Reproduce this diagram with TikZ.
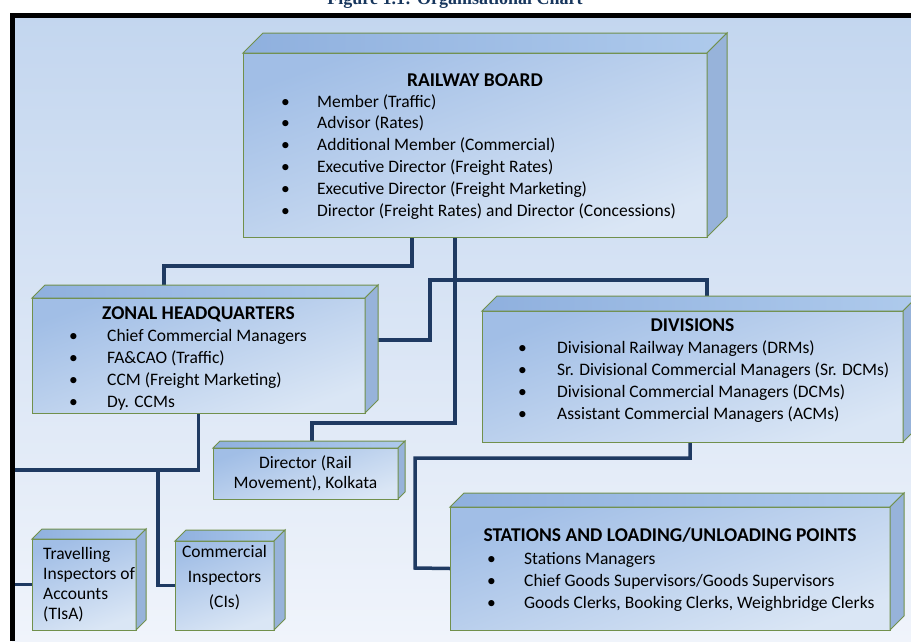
\documentclass[tikz,border=0pt]{standalone}
\usepackage{fontspec}
\setmainfont{Carlito}
\newfontfamily\captionserif{Liberation Serif}
\pgfdeclarelayer{bg}
\pgfdeclarelayer{links}
\pgfsetlayers{bg,links,main}
\definecolor{frontdark}{HTML}{A1BEE6}
\definecolor{frontlight}{HTML}{DAE6F5}
\definecolor{topdark}{HTML}{8FB0DE}
\definecolor{toplight}{HTML}{AECAEC}
\definecolor{sideblue}{HTML}{97B3DA}
\definecolor{edgegreen}{HTML}{71904C}
\definecolor{linknavy}{HTML}{1F3A62}
\definecolor{bgtop}{HTML}{C3D6EF}
\definecolor{bgbottom}{HTML}{F0F4FB}
\definecolor{captionblue}{HTML}{17365D}
\tikzstyle{front}=[draw=edgegreen, line width=1pt, top color=frontdark, bottom color=frontlight, shading angle=20, inner sep=0pt, outer sep=0pt, anchor=north west]
\tikzstyle{topface}=[draw=edgegreen, line width=1pt, left color=topdark, right color=toplight]
\tikzstyle{sideface}=[draw=edgegreen, line width=1pt, fill=sideblue]
\tikzstyle{link}=[draw=linknavy, line width=3.5pt]
\tikzstyle{head}=[font=\fontsize{19.5}{22}\selectfont\bfseries, anchor=base, inner sep=0pt]
\tikzstyle{item}=[font=\fontsize{17.5}{22}\selectfont, anchor=base west, inner sep=0pt]
\tikzstyle{boxtext}=[font=\fontsize{17.5}{20}\selectfont, inner sep=0pt]

\begin{document}
\begin{tikzpicture}[x=1pt, y=-1pt]
	\useasboundingbox (0,0) rectangle (911,641);
	\begin{pgfonlayer}{bg}
		\shade[top color=bgtop, bottom color=bgbottom] (12,15) rectangle (911,641);
	\end{pgfonlayer}
	\node[font=\captionserif\fontsize{18}{20}\selectfont\bfseries, text=captionblue, anchor=base, inner sep=0pt] (caption) at (455,4.5) {Figure 1.1: Organisational Chart};

	\node[front, minimum width=464pt, minimum height=184pt] (board) at (243,53) {};
	\node[front, minimum width=333pt, minimum height=115pt] (zonal) at (32,298) {};
	\node[front, minimum width=421pt, minimum height=131pt] (division) at (482,311) {};
	\node[front, minimum width=185pt, minimum height=51pt] (director) at (213,448) {};
	\node[front, minimum width=104pt, minimum height=91pt] (travel) at (32,539) {};
	\node[front, minimum width=99pt, minimum height=89pt] (cinsp) at (175,541) {};
	\node[front, minimum width=440pt, minimum height=123pt] (stations) at (450,507) {};
	\foreach \n/\d in {board/20, zonal/13, division/15, director/7, travel/10, cinsp/11, stations/14}{
		\draw[topface] (\n.north west) -- ++(\d,-\d) -- ([shift={(\d,-\d)}]\n.north east) -- (\n.north east) -- cycle;
		\draw[sideface] (\n.north east) -- ([shift={(\d,-\d)}]\n.north east) -- ([shift={(\d,-\d)}]\n.south east) -- (\n.south east) -- cycle;
	}

	\node[head] (boardhead) at (475,86) {RAILWAY BOARD};
	\foreach \t [count=\i] in {Member (Traffic), Advisor (Rates), Additional Member (Commercial), Executive Director (Freight Rates), Executive Director (Freight Marketing), Director (Freight Rates) and Director (Concessions)}
		\node[item] (boarditem\i) at (281,{107+21.8*(\i-1)}) {\makebox[36pt][l]{\textbullet}\t};
	\node[head] (zonalhead) at (198.5,319) {ZONAL HEADQUARTERS};
	\foreach \t [count=\i] in {Chief Commercial Managers, FA\&CAO (Traffic), CCM (Freight Marketing), Dy. CCMs}
		\node[item] (zonalitem\i) at (69,{341+22.3*(\i-1)}) {\makebox[38pt][l]{\textbullet}\t};
	\node[head] (divisionhead) at (692.5,331) {DIVISIONS};
	\foreach \t [count=\i] in {Divisional Railway Managers (DRMs), Sr. Divisional Commercial Managers (Sr. DCMs), Divisional Commercial Managers (DCMs), Assistant Commercial Managers (ACMs)}
		\node[item] (divisionitem\i) at (518,{353+22*(\i-1)}) {\makebox[39pt][l]{\textbullet}\t};
	\node[head] (stationshead) at (670,541) {STATIONS AND LOADING/UNLOADING POINTS};
	\foreach \t [count=\i] in {Stations Managers, Chief Goods Supervisors/Goods Supervisors, {Goods Clerks, Booking Clerks, Weighbridge Clerks}}
		\node[item] (stationsitem\i) at (487,{564+22*(\i-1)}) {\makebox[37pt][l]{\textbullet}\t};
	\node[boxtext, align=center] (directortext) at (305.5,473) {Director (Rail\\Movement), Kolkata};
	\node[boxtext, align=left, anchor=west] (traveltext) at (43,585) {Travelling\\Inspectors of\\Accounts\\(TIsA)};
	\node[boxtext, align=center, font=\fontsize{17.5}{25}\selectfont] (cinsptext) at (224.5,578) {Commercial\\Inspectors\\(CIs)};

	\begin{pgfonlayer}{links}
		\draw[link] ([xshift=-63pt]board.south) -- ++(0,29) -| ([xshift=-34.5pt]zonal.north);
		\draw[link] ([xshift=-20pt]board.south) -- ++(0,186) -| ([xshift=6.5pt]director.north);
		\draw[link] ([xshift=14.5pt]division.north) -- ++(0,-31) -| ++(-277,60) -- ([yshift=15.5pt]zonal.east);
		\draw[link] ([xshift=-2.5pt]division.south) -- ++(0,16) -| ++(-275,110) -- (stations.west);
		\draw[link] (zonal.south) -- ++(0,57) -- ++(-40.5,0) coordinate (fork) -- ++(-145,0) |- (travel.west);
		\draw[link] (fork) |- (cinsp.west);
	\end{pgfonlayer}
	\draw[line width=5pt, black] (12.5,641) -- (12.5,15) -- (911,15);
\end{tikzpicture}
\end{document}
